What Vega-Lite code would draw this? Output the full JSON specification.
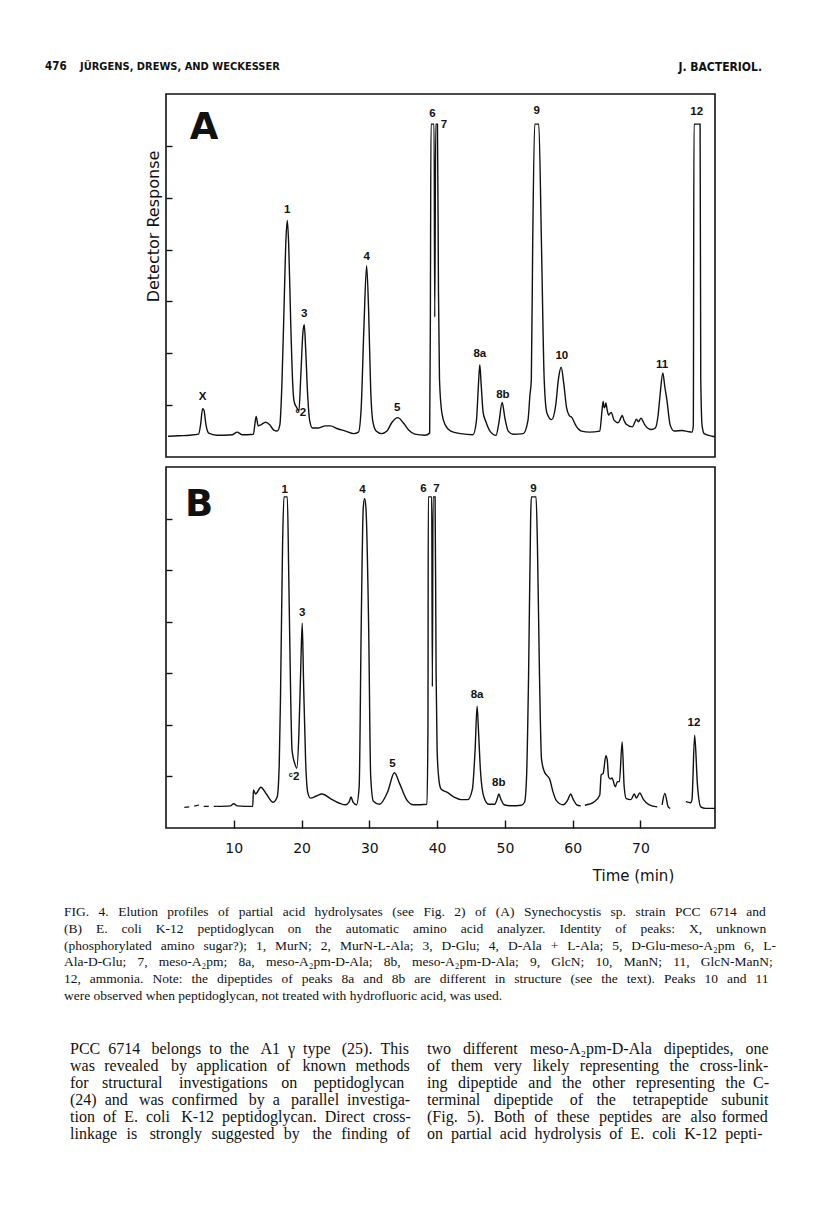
{
  "$schema": "https://vega.github.io/schema/vega-lite/v6.json",
  "padding": {"left": 45, "top": 50, "right": 10, "bottom": 10},
  "background": "white",
  "spacing": 10,
  "bounds": "flush",
  "config": {
    "view": {"stroke": "#111", "strokeWidth": 1.6},
    "axis": {"grid": false}
  },
  "vconcat": [
    {
      "width": 549,
      "height": 34,
      "view": {"stroke": null},
      "data": {"values": [
        {"part": "page", "text": "476"},
        {"part": "authors", "text": "JÜRGENS, DREWS, AND WECKESSER"},
        {"part": "journal", "text": "J. BACTERIOL."}
      ]},
      "layer": [
        {
          "transform": [{"filter": "datum.part === 'page'"}],
          "mark": {"type": "text", "align": "left", "baseline": "middle", "font": "DejaVu Sans Condensed", "fontSize": 11.5, "fontWeight": "bold", "color": "#111"},
          "encoding": {
            "x": {"datum": 45, "type": "quantitative", "scale": {"domain": [166, 715], "nice": false, "zero": false}, "axis": null},
            "y": {"datum": 67, "type": "quantitative", "scale": {"domain": [50, 84], "nice": false, "zero": false, "reverse": true}, "axis": null},
            "text": {"field": "text"}
          }
        },
        {
          "transform": [{"filter": "datum.part === 'authors'"}],
          "mark": {"type": "text", "align": "left", "baseline": "middle", "font": "DejaVu Sans Condensed", "fontSize": 11, "fontWeight": "bold", "color": "#111"},
          "encoding": {
            "x": {"datum": 80, "type": "quantitative"},
            "y": {"datum": 67, "type": "quantitative"},
            "text": {"field": "text"}
          }
        },
        {
          "transform": [{"filter": "datum.part === 'journal'"}],
          "mark": {"type": "text", "align": "right", "baseline": "middle", "font": "DejaVu Sans Condensed", "fontSize": 12, "fontWeight": "bold", "color": "#111"},
          "encoding": {
            "x": {"datum": 762, "type": "quantitative"},
            "y": {"datum": 67, "type": "quantitative"},
            "text": {"field": "text"}
          }
        }
      ]
    },
    {
      "width": 549,
      "height": 363,
      "layer": [
        {
          "data": {"values": [
            {"t":0.3,"v":0.40},{"t":2,"v":0.41},{"t":3.5,"v":0.42},{"t":4.8,"v":0.44},{"t":5.1,"v":0.62},{"t":5.4,"v":0.93},{"t":5.6,"v":0.9},{"t":5.9,"v":0.62},{"t":6.3,"v":0.46},{"t":7.5,"v":0.42},
            {"t":9.8,"v":0.43},{"t":10.5,"v":0.48},{"t":11.2,"v":0.43},{"t":12.9,"v":0.44},{"t":13.1,"v":0.62},{"t":13.3,"v":0.78},{"t":13.6,"v":0.6},{"t":14.0,"v":0.62},{"t":14.7,"v":0.67},{"t":15.3,"v":0.62},
            {"t":15.9,"v":0.52},{"t":16.4,"v":0.5},{"t":16.8,"v":0.62},{"t":17.1,"v":1.4},{"t":17.4,"v":2.8},{"t":17.7,"v":4.2},{"t":17.9,"v":4.56},{"t":18.1,"v":4.1},{"t":18.4,"v":2.6},{"t":18.7,"v":1.4},
            {"t":18.9,"v":1.07},{"t":19.3,"v":0.95},{"t":19.6,"v":0.88},{"t":19.9,"v":1.6},{"t":20.2,"v":2.4},{"t":20.4,"v":2.55},{"t":20.6,"v":2.1},{"t":20.9,"v":1.2},{"t":21.2,"v":0.7},{"t":21.6,"v":0.56},
            {"t":22.5,"v":0.56},{"t":23.5,"v":0.6},{"t":24.3,"v":0.6},{"t":25.2,"v":0.55},{"t":26.5,"v":0.5},{"t":27.7,"v":0.45},{"t":28.4,"v":0.48},{"t":28.8,"v":0.95},{"t":29.2,"v":2.5},{"t":29.6,"v":3.69},
            {"t":29.9,"v":2.8},{"t":30.2,"v":1.3},{"t":30.5,"v":0.7},{"t":31.0,"v":0.5},{"t":31.8,"v":0.45},{"t":32.6,"v":0.5},{"t":33.3,"v":0.66},{"t":34.2,"v":0.76},{"t":35.0,"v":0.66},{"t":35.8,"v":0.52},
            {"t":36.7,"v":0.44},{"t":38.2,"v":0.42},{"t":38.9,"v":0.46},{"t":39.0,"v":2.5},{"t":39.1,"v":6.42},{"t":39.55,"v":6.42},{"t":39.65,"v":2.7},{"t":39.8,"v":6.42},{"t":40.05,"v":6.42},{"t":40.2,"v":3.2},
            {"t":40.35,"v":1.5},{"t":40.7,"v":0.85},{"t":41.2,"v":0.62},{"t":42.0,"v":0.5},{"t":43.5,"v":0.45},{"t":45.3,"v":0.43},{"t":45.8,"v":0.7},{"t":46.1,"v":1.4},{"t":46.3,"v":1.78},{"t":46.5,"v":1.4},
            {"t":46.8,"v":0.85},{"t":47.2,"v":0.68},{"t":47.8,"v":0.5},{"t":48.7,"v":0.42},{"t":49.1,"v":0.65},{"t":49.6,"v":1.05},{"t":50.0,"v":0.75},{"t":50.5,"v":0.5},{"t":51.2,"v":0.44},{"t":52.7,"v":0.45},
            {"t":53.4,"v":0.7},{"t":53.7,"v":1.2},{"t":53.9,"v":1.49},{"t":54.1,"v":4.08},{"t":54.4,"v":6.42},{"t":55.0,"v":6.42},{"t":55.4,"v":4.08},{"t":55.8,"v":1.49},{"t":56.2,"v":0.85},{"t":56.9,"v":0.72},
            {"t":57.5,"v":1.0},{"t":57.9,"v":1.5},{"t":58.3,"v":1.73},{"t":58.7,"v":1.4},{"t":59.1,"v":0.95},{"t":59.5,"v":0.8},{"t":59.9,"v":0.76},{"t":60.5,"v":0.6},{"t":61.3,"v":0.5},{"t":62.5,"v":0.48},
            {"t":64.0,"v":0.50},{"t":64.3,"v":0.85},{"t":64.5,"v":1.07},{"t":64.65,"v":0.95},{"t":64.8,"v":0.98},{"t":64.9,"v":1.04},{"t":65.1,"v":0.9},{"t":65.3,"v":0.81},{"t":65.5,"v":0.84},{"t":65.7,"v":0.86},
            {"t":66.1,"v":0.71},{"t":66.7,"v":0.66},{"t":67.0,"v":0.72},{"t":67.3,"v":0.80},{"t":67.6,"v":0.7},{"t":67.9,"v":0.63},{"t":68.8,"v":0.58},{"t":69.2,"v":0.68},{"t":69.4,"v":0.73},{"t":69.7,"v":0.68},
            {"t":70.1,"v":0.75},{"t":70.4,"v":0.68},{"t":70.7,"v":0.61},{"t":71.6,"v":0.53},{"t":72.2,"v":0.56},{"t":72.6,"v":0.8},{"t":72.9,"v":1.2},{"t":73.3,"v":1.62},{"t":73.6,"v":1.35},{"t":73.9,"v":1.1},
            {"t":74.4,"v":0.61},{"t":75.0,"v":0.50},{"t":76.2,"v":0.51},{"t":77.0,"v":0.49},{"t":77.6,"v":0.48},{"t":77.8,"v":0.6},{"t":77.9,"v":6.42},{"t":78.8,"v":6.42},{"t":78.9,"v":1.5},{"t":79.1,"v":0.6},
            {"t":79.4,"v":0.45},{"t":80.6,"v":0.40},{"t":81,"v":0.39}
          ]},
          "mark": {"type": "line", "color": "#111", "strokeWidth": 1.4, "interpolate": "monotone"},
          "encoding": {
            "x": {"field": "t", "type": "quantitative", "scale": {"domain": [0, 81], "nice": false, "zero": false}, "axis": null},
            "y": {"field": "v", "type": "quantitative", "scale": {"domain": [0, 7], "nice": false, "zero": false},
                  "axis": {"values": [1, 2, 3, 4, 5, 6], "labels": false, "domain": false, "tickSize": -6, "tickColor": "#111", "tickWidth": 1.4,
                           "title": "Detector Response", "titleFont": "DejaVu Sans", "titleFontSize": 16, "titleFontWeight": "normal", "titleColor": "#111",
                           "titleX": -13, "titleY": 132, "titleAngle": 270, "titleAlign": "center", "titleBaseline": "middle"}}
          }
        },
        {
          "data": {"values": [
            {"t":5.4,"v":1.16,"label":"X"},{"t":17.9,"v":4.77,"label":"1"},{"t":19.9,"v":0.85,"label":"ᶜ2"},{"t":20.4,"v":2.75,"label":"3"},
            {"t":29.6,"v":3.86,"label":"4"},{"t":34.1,"v":0.95,"label":"5"},{"t":39.3,"v":6.61,"label":"6"},{"t":41.0,"v":6.40,"label":"7"},
            {"t":46.3,"v":1.98,"label":"8a"},{"t":49.7,"v":1.2,"label":"8b"},{"t":54.7,"v":6.67,"label":"9"},{"t":58.4,"v":1.94,"label":"10"},
            {"t":73.2,"v":1.78,"label":"11"},{"t":78.3,"v":6.66,"label":"12"}
          ]},
          "mark": {"type": "text", "align": "center", "baseline": "middle", "font": "Liberation Sans", "fontSize": 11.5, "fontWeight": "bold", "color": "#111"},
          "encoding": {
            "x": {"field": "t", "type": "quantitative"},
            "y": {"field": "v", "type": "quantitative"},
            "text": {"field": "label"}
          }
        },
        {
          "data": {"values": [{"panel": "A"}]},
          "mark": {"type": "text", "align": "center", "baseline": "middle", "font": "DejaVu Sans", "fontSize": 37, "fontWeight": "bold", "color": "#111"},
          "encoding": {
            "x": {"datum": 5.6, "type": "quantitative"},
            "y": {"datum": 6.34, "type": "quantitative"},
            "text": {"field": "panel"}
          }
        }
      ]
    },
    {
      "width": 549,
      "height": 361,
      "layer": [
        {
          "data": {"values": [
            {"seg":"dash","t":2.7,"v":0.40},{"seg":"dash","t":4.0,"v":0.42},{"seg":"dash","t":5.0,"v":0.45},{"seg":"dash","t":5.5,"v":0.42},{"seg":"dash","t":7.5,"v":0.42},
            {"seg":"a","t":7.5,"v":0.42},{"seg":"a","t":9.5,"v":0.43},{"seg":"a","t":10.0,"v":0.47},{"seg":"a","t":10.5,"v":0.43},{"seg":"a","t":12.8,"v":0.42},{"seg":"a","t":12.9,"v":0.74},
            {"seg":"a","t":13.2,"v":0.66},{"seg":"a","t":14.0,"v":0.79},{"seg":"a","t":14.8,"v":0.66},{"seg":"a","t":15.8,"v":0.5},{"seg":"a","t":16.4,"v":0.6},{"seg":"a","t":16.7,"v":1.2},
            {"seg":"a","t":16.9,"v":2.6},{"seg":"a","t":17.2,"v":5.5},{"seg":"a","t":17.4,"v":6.42},{"seg":"a","t":17.9,"v":6.42},{"seg":"a","t":18.1,"v":5.0},{"seg":"a","t":18.4,"v":2.5},
            {"seg":"a","t":18.6,"v":1.5},{"seg":"a","t":19.0,"v":1.25},{"seg":"a","t":19.3,"v":1.16},{"seg":"a","t":19.6,"v":1.8},{"seg":"a","t":19.9,"v":3.2},{"seg":"a","t":20.1,"v":3.97},
            {"seg":"a","t":20.3,"v":2.8},{"seg":"a","t":20.6,"v":1.3},{"seg":"a","t":20.9,"v":0.7},{"seg":"a","t":21.3,"v":0.58},{"seg":"a","t":22.2,"v":0.62},{"seg":"a","t":23.0,"v":0.66},
            {"seg":"a","t":24.5,"v":0.55},{"seg":"a","t":26.5,"v":0.45},{"seg":"a","t":27.0,"v":0.5},{"seg":"a","t":27.3,"v":0.6},{"seg":"a","t":27.6,"v":0.5},{"seg":"a","t":28.1,"v":0.45},
            {"seg":"a","t":28.5,"v":0.8},{"seg":"a","t":28.8,"v":3.9},{"seg":"a","t":29.1,"v":6.2},{"seg":"a","t":29.3,"v":6.39},{"seg":"a","t":29.5,"v":6.2},{"seg":"a","t":29.9,"v":3.9},
            {"seg":"a","t":30.2,"v":1.0},{"seg":"a","t":30.6,"v":0.52},{"seg":"a","t":31.5,"v":0.46},{"seg":"a","t":32.7,"v":0.7},{"seg":"a","t":33.7,"v":1.07},{"seg":"a","t":34.5,"v":0.85},
            {"seg":"a","t":35.5,"v":0.55},{"seg":"a","t":36.5,"v":0.45},{"seg":"a","t":38.5,"v":0.46},{"seg":"a","t":38.65,"v":2.0},{"seg":"a","t":38.7,"v":6.42},{"seg":"a","t":39.2,"v":6.42},
            {"seg":"a","t":39.3,"v":2.74},{"seg":"a","t":39.4,"v":6.42},{"seg":"a","t":39.7,"v":6.42},{"seg":"a","t":39.85,"v":3.0},{"seg":"a","t":40.0,"v":1.51},{"seg":"a","t":40.3,"v":0.9},
            {"seg":"a","t":40.6,"v":0.75},{"seg":"a","t":41.5,"v":0.69},{"seg":"a","t":42.5,"v":0.6},{"seg":"a","t":43.5,"v":0.55},{"seg":"a","t":44.5,"v":0.55},{"seg":"a","t":45.2,"v":0.75},
            {"seg":"a","t":45.6,"v":1.5},{"seg":"a","t":45.9,"v":2.36},{"seg":"a","t":46.1,"v":1.9},{"seg":"a","t":46.4,"v":1.1},{"seg":"a","t":46.9,"v":0.6},{"seg":"a","t":47.6,"v":0.46},
            {"seg":"a","t":48.5,"v":0.46},{"seg":"a","t":48.9,"v":0.58},{"seg":"a","t":49.1,"v":0.66},{"seg":"a","t":49.4,"v":0.56},{"seg":"a","t":49.9,"v":0.45},{"seg":"a","t":51.0,"v":0.43},
            {"seg":"a","t":52.4,"v":0.44},{"seg":"a","t":52.9,"v":0.5},{"seg":"a","t":53.2,"v":1.0},{"seg":"a","t":53.5,"v":3.0},{"seg":"a","t":53.8,"v":6.0},{"seg":"a","t":53.9,"v":6.42},
            {"seg":"a","t":54.6,"v":6.42},{"seg":"a","t":54.8,"v":5.5},{"seg":"a","t":55.1,"v":3.0},{"seg":"a","t":55.4,"v":1.34},{"seg":"a","t":55.8,"v":1.1},{"seg":"a","t":56.2,"v":1.02},
            {"seg":"a","t":56.6,"v":0.95},{"seg":"a","t":57.1,"v":0.7},{"seg":"a","t":57.6,"v":0.53},{"seg":"a","t":58.6,"v":0.45},{"seg":"a","t":59.3,"v":0.55},{"seg":"a","t":59.7,"v":0.66},
            {"seg":"a","t":60.1,"v":0.55},{"seg":"a","t":60.6,"v":0.45},{"seg":"a","t":61.2,"v":0.43},
            {"seg":"b","t":61.8,"v":0.44},{"seg":"b","t":63.2,"v":0.51},{"seg":"b","t":64.0,"v":0.64},{"seg":"b","t":64.2,"v":1.03},{"seg":"b","t":64.5,"v":1.06},{"seg":"b","t":64.9,"v":1.40},
            {"seg":"b","t":65.1,"v":1.32},{"seg":"b","t":65.3,"v":0.99},{"seg":"b","t":65.6,"v":0.95},{"seg":"b","t":65.8,"v":0.97},{"seg":"b","t":66.3,"v":0.80},{"seg":"b","t":66.6,"v":0.90},
            {"seg":"b","t":66.9,"v":0.9},{"seg":"b","t":67.3,"v":1.67},{"seg":"b","t":67.6,"v":0.8},{"seg":"b","t":67.9,"v":0.57},{"seg":"b","t":68.6,"v":0.55},{"seg":"b","t":69.1,"v":0.66},
            {"seg":"b","t":69.4,"v":0.58},{"seg":"b","t":69.9,"v":0.68},{"seg":"b","t":70.4,"v":0.56},{"seg":"b","t":71.3,"v":0.45},{"seg":"b","t":72.5,"v":0.41},
            {"seg":"c","t":73.2,"v":0.45},{"seg":"c","t":73.6,"v":0.67},{"seg":"c","t":74.1,"v":0.41},{"seg":"c","t":74.4,"v":0.38},
            {"seg":"d","t":76.7,"v":0.51},{"seg":"d","t":77.4,"v":0.49},{"seg":"d","t":77.6,"v":0.55},{"seg":"d","t":78.0,"v":1.80},{"seg":"d","t":78.4,"v":0.85},{"seg":"d","t":78.9,"v":0.41},
            {"seg":"d","t":79.6,"v":0.38},{"seg":"d","t":81,"v":0.38}
          ]},
          "layer": [
            {
              "transform": [{"filter": "datum.seg !== 'dash'"}],
              "mark": {"type": "line", "color": "#111", "strokeWidth": 1.4, "interpolate": "monotone"},
              "encoding": {
                "x": {"field": "t", "type": "quantitative", "scale": {"domain": [0, 81], "nice": false, "zero": false},
                      "axis": {"values": [10, 20, 30, 40, 50, 60, 70], "domain": false, "tickSize": -8, "tickColor": "#111", "tickWidth": 1.4,
                               "labelFont": "DejaVu Sans", "labelFontSize": 14, "labelColor": "#111", "labelPadding": 21,
                               "title": "Time (min)", "titleFont": "DejaVu Sans", "titleFontSize": 15, "titleFontWeight": "normal", "titleColor": "#111",
                               "titleX": 467, "titleY": 47, "titleAlign": "center", "titleBaseline": "middle"}},
                "y": {"field": "v", "type": "quantitative", "scale": {"domain": [0, 7], "nice": false, "zero": false},
                      "axis": {"values": [1, 2, 3, 4, 5, 6], "labels": false, "domain": false, "tickSize": -6, "tickColor": "#111", "tickWidth": 1.4, "title": null}},
                "detail": {"field": "seg"}
              }
            },
            {
              "transform": [{"filter": "datum.seg === 'dash'"}],
              "mark": {"type": "line", "color": "#111", "strokeWidth": 1.2, "strokeDash": [5, 5]},
              "encoding": {
                "x": {"field": "t", "type": "quantitative"},
                "y": {"field": "v", "type": "quantitative"}
              }
            }
          ]
        },
        {
          "data": {"values": [
            {"t":17.5,"v":6.55,"label":"1"},{"t":18.9,"v":0.99,"label":"ᶜ2"},{"t":20.1,"v":4.16,"label":"3"},{"t":29.0,"v":6.56,"label":"4"},
            {"t":33.4,"v":1.25,"label":"5"},{"t":38.0,"v":6.58,"label":"6"},{"t":39.9,"v":6.58,"label":"7"},{"t":45.9,"v":2.58,"label":"8a"},
            {"t":49.1,"v":0.87,"label":"8b"},{"t":54.2,"v":6.58,"label":"9"},{"t":77.9,"v":2.03,"label":"12"}
          ]},
          "mark": {"type": "text", "align": "center", "baseline": "middle", "font": "Liberation Sans", "fontSize": 11.5, "fontWeight": "bold", "color": "#111"},
          "encoding": {
            "x": {"field": "t", "type": "quantitative"},
            "y": {"field": "v", "type": "quantitative"},
            "text": {"field": "label"}
          }
        },
        {
          "data": {"values": [{"panel": "B"}]},
          "mark": {"type": "text", "align": "center", "baseline": "middle", "font": "DejaVu Sans", "fontSize": 37, "fontWeight": "bold", "color": "#111"},
          "encoding": {
            "x": {"datum": 4.9, "type": "quantitative"},
            "y": {"datum": 6.26, "type": "quantitative"},
            "text": {"field": "panel"}
          }
        }
      ]
    },
    {
      "width": 549,
      "height": 302,
      "view": {"stroke": null},
      "data": {"values": [
        {"block": "caption", "line": 1, "text": "\u00a0\u00a0\u00a0\u00a0\u00a0\u00a0FIG.\u2002\u20094.\u2002\u2009Elution\u2002\u2009profiles\u2002\u2009of\u2002\u2009partial\u2002\u2009acid\u2002\u2009hydrolysates\u2002\u2009(see\u2002\u2009Fig.\u2002\u20092)\u2002\u2009of\u2002\u2009(A)\u2002\u2009Synechocystis\u2002\u2009sp.\u2002\u2009strain\u2002\u2009PCC\u2002\u20096714\u2002\u2009and"},
        {"block": "caption", "line": 2, "text": "(B)\u2002\u2004\u2009E.\u2002\u2004\u2009coli\u2002\u2004\u2009K-12\u2002\u2004\u2009peptidoglycan\u2002\u2004\u2009on\u2002\u2004\u2009the\u2002\u2004\u2009automatic\u2002\u2004\u2009amino\u2002\u2004\u2009acid\u2002\u2004\u2009analyzer.\u2002\u2004\u2009Identity\u2002\u2004\u2009of\u2002\u2004\u2009peaks:\u2002\u2004\u2009X,\u2002\u2004\u2009unknown"},
        {"block": "caption", "line": 3, "text": "(phosphorylated\u2002\u2006amino\u2002\u2006sugar?);\u2002\u20061,\u2002\u2006MurN;\u2002\u20062,\u2002\u2006MurN-L-Ala;\u2002\u20063,\u2002\u2006D-Glu;\u2002\u20064,\u2002\u2006D-Ala\u2002\u2006+\u2002\u2006L-Ala;\u2002\u20065,\u2002\u2006D-Glu-meso-A₂pm\u2002\u20066,\u2002\u2006L-"},
        {"block": "caption", "line": 4, "text": "Ala-D-Glu;\u2002\u20047,\u2002\u2004meso-A₂pm;\u2002\u20048a,\u2002\u2004meso-A₂pm-D-Ala;\u2002\u20048b,\u2002\u2004meso-A₂pm-D-Ala;\u2002\u20049,\u2002\u2004GlcN;\u2002\u200410,\u2002\u2004ManN;\u2002\u200411,\u2002\u2004GlcN-ManN;"},
        {"block": "caption", "line": 5, "text": "12,\u2002\u2006ammonia.\u2002\u2006Note:\u2002\u2006the\u2002\u2006dipeptides\u2002\u2006of\u2002\u2006peaks\u2002\u20068a\u2002\u2006and\u2002\u20068b\u2002\u2006are\u2002\u2006different\u2002\u2006in\u2002\u2006structure\u2002\u2006(see\u2002\u2006the\u2002\u2006text).\u2002\u2006Peaks\u2002\u200610\u2002\u2006and\u2002\u200611"},
        {"block": "caption", "line": 6, "text": "were observed when peptidoglycan, not treated with hydrofluoric acid, was used."},
        {"block": "left", "line": 1, "text": "PCC\u20026714\u2002\u2009belongs\u2002to\u2002the\u2002\u2009A1\u2002γ\u2002type\u2002\u2009(25).\u2002This"},
        {"block": "left", "line": 2, "text": "was\u2004\u2005revealed\u2004\u2005\u2009by\u2004\u2005application\u2004\u2005of\u2004\u2005\u2009known\u2004\u2005methods"},
        {"block": "left", "line": 3, "text": "for\u2002\u2004structural\u2002\u2004\u2009investigations\u2002\u2004on\u2002\u2004\u2009peptidoglycan"},
        {"block": "left", "line": 4, "text": "(24)\u2002and\u2002\u2009was\u2002confirmed\u2002\u2009by\u2002a\u2002\u2009parallel\u2002investiga-"},
        {"block": "left", "line": 5, "text": "tion\u2002of\u2002E.\u2002coli\u2002\u2009K-12\u2002peptidoglycan.\u2002Direct\u2002cross-"},
        {"block": "left", "line": 6, "text": "linkage\u2004\u2005is\u2004\u2005\u2009strongly\u2004\u2005suggested\u2004\u2005by\u2004\u2005\u2009the\u2004\u2005finding\u2004\u2005of"},
        {"block": "right", "line": 1, "text": "two\u2002\u2005different\u2002\u2005meso-A₂pm-D-Ala\u2002\u2005dipeptides,\u2002\u2005one"},
        {"block": "right", "line": 2, "text": "of\u2002\u2006them\u2002\u2006very\u2002\u2006likely\u2002\u2006representing\u2002\u2006the\u2002\u2006cross-link-"},
        {"block": "right", "line": 3, "text": "ing\u2002\u2006dipeptide\u2002\u2006and\u2002\u2006the\u2002\u2006other\u2002\u2006representing\u2002\u2006the\u2002C-"},
        {"block": "right", "line": 4, "text": "terminal\u2002\u2004dipeptide\u2002\u2004\u2009of\u2002\u2004the\u2002\u2004\u2009tetrapeptide\u2002\u2004subunit"},
        {"block": "right", "line": 5, "text": "(Fig.\u2004\u20055).\u2004\u2005Both\u2004\u2005of\u2004\u2005these\u2004\u2005peptides\u2004\u2005are\u2004\u2005also\u2004formed"},
        {"block": "right", "line": 6, "text": "on\u2002partial\u2002acid\u2002hydrolysis\u2002of\u2002E.\u2002coli\u2002K-12\u2002pepti-"}
      ]},
      "layer": [
        {
          "transform": [{"filter": "datum.block === 'caption'"}],
          "mark": {"type": "text", "align": "left", "baseline": "middle", "font": "Liberation Serif", "fontSize": 13.5, "color": "#111"},
          "encoding": {
            "x": {"datum": 64, "type": "quantitative", "scale": {"domain": [166, 715], "nice": false, "zero": false}, "axis": null},
            "y": {"field": "line", "type": "quantitative", "scale": {"domain": [1, 6], "range": [74, 158], "nice": false, "zero": false}, "axis": null},
            "text": {"field": "text"}
          }
        },
        {
          "transform": [{"filter": "datum.block !== 'caption'"}],
          "mark": {"type": "text", "align": "left", "baseline": "middle", "font": "Liberation Serif", "fontSize": 16, "color": "#111"},
          "encoding": {
            "x": {"field": "block", "type": "nominal", "scale": {"type": "point", "domain": ["left", "right"], "range": [-96, 261], "padding": 0}, "axis": null},
            "y": {"field": "line", "type": "quantitative", "scale": {"domain": [1, 6], "range": [211, 296], "nice": false, "zero": false}, "axis": null},
            "text": {"field": "text"}
          }
        }
      ],
      "resolve": {"scale": {"x": "independent", "y": "independent"}}
    }
  ]
}
